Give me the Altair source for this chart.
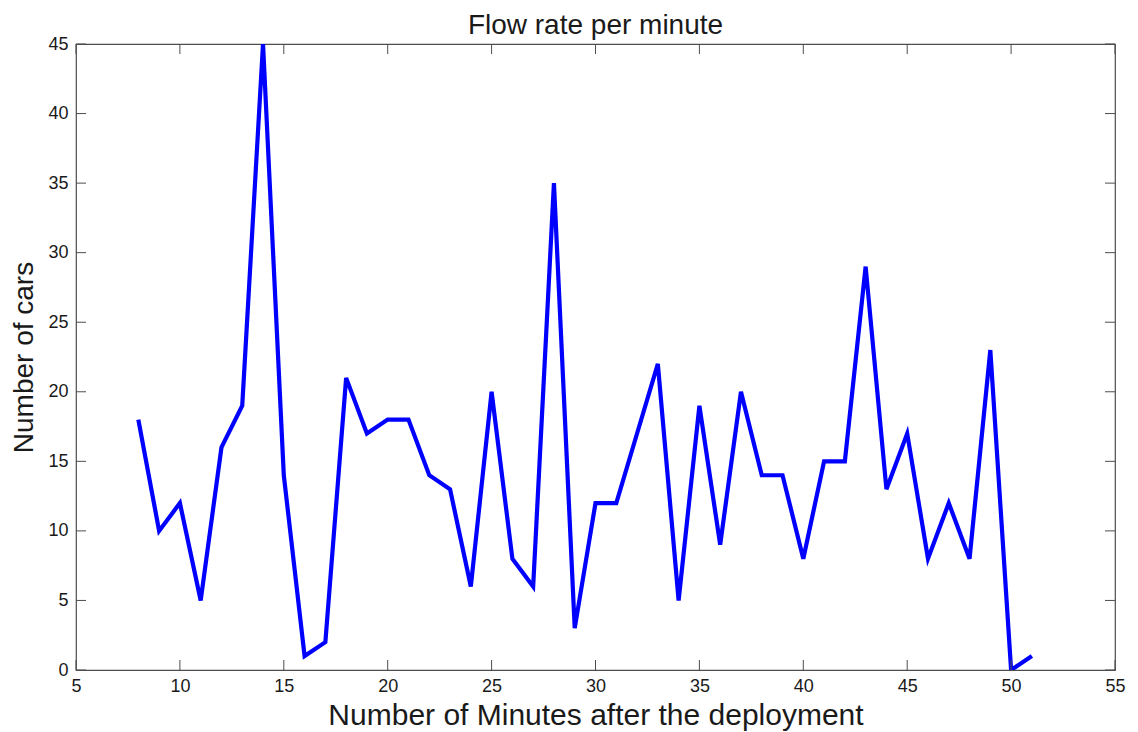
import altair as alt
import pandas as pd

minutes = list(range(8, 52))
cars = [18, 10, 12, 5, 16, 19, 45, 14, 1, 2, 21, 17, 18, 18, 14, 13, 6, 20, 8, 6,
        35, 3, 12, 12, 17, 22, 5, 19, 9, 20, 14, 14, 8, 15, 15, 29, 13, 17, 8, 12,
        8, 23, 0, 1]
x_ticks = [5, 10, 15, 20, 25, 30, 35, 40, 45, 50, 55]
y_ticks = [0, 5, 10, 15, 20, 25, 30, 35, 40, 45]

W, H = 1039, 626
FONT = "Liberation Sans"
TXT = "#1a1a1a"
FRAME = "#4d4d4d"

df = pd.DataFrame({"minute": minutes, "cars": cars})
xt = pd.DataFrame({"minute": x_ticks})
yt = pd.DataFrame({"cars": y_ticks})

xscale = alt.Scale(domain=[5, 55], nice=False, zero=False)
yscale = alt.Scale(domain=[0, 45], nice=False)

xaxis = alt.Axis(values=x_ticks, title="Number of Minutes after the deployment",
                 domain=False, ticks=False, grid=False, labelFontSize=18,
                 labelPadding=7, titleFontSize=30, titlePadding=5,
                 labelColor=TXT, titleColor=TXT, titleFontWeight="normal",
                 labelFont=FONT, titleFont=FONT, labelFlush=False)
yaxis = alt.Axis(values=y_ticks, title="Number of cars",
                 domain=False, ticks=False, grid=False, labelFontSize=18,
                 labelPadding=8, titleFontSize=28, titlePadding=9,
                 labelColor=TXT, titleColor=TXT, titleFontWeight="normal",
                 labelFont=FONT, titleFont=FONT, labelFlush=False)

line = alt.Chart(df).mark_line(color="#0000ff", strokeWidth=4.2, clip=True).encode(
    x=alt.X("minute:Q", scale=xscale, axis=xaxis),
    y=alt.Y("cars:Q", scale=yscale, axis=yaxis),
)

bottom_ticks = alt.Chart(xt).mark_rule(color=FRAME, strokeWidth=1).encode(
    x=alt.X("minute:Q", scale=xscale), y=alt.value(H), y2=alt.value(H - 10))
top_ticks = alt.Chart(xt).mark_rule(color=FRAME, strokeWidth=1).encode(
    x=alt.X("minute:Q", scale=xscale), y=alt.value(0), y2=alt.value(10))
left_ticks = alt.Chart(yt).mark_rule(color=FRAME, strokeWidth=1).encode(
    y=alt.Y("cars:Q", scale=yscale), x=alt.value(0), x2=alt.value(10))
right_ticks = alt.Chart(yt).mark_rule(color=FRAME, strokeWidth=1).encode(
    y=alt.Y("cars:Q", scale=yscale), x=alt.value(W), x2=alt.value(W - 10))

chart = alt.layer(line, bottom_ticks, top_ticks, left_ticks, right_ticks).properties(
    width=W, height=H,
    title=alt.Title("Flow rate per minute", fontSize=28, font=FONT, fontWeight="normal",
                    color=TXT, offset=-5),
    autosize=alt.AutoSizeParams(type="none"),
    padding={"left": 68, "top": 36, "right": 15, "bottom": 62},
    background="white",
).configure_view(stroke=FRAME, strokeWidth=1.2)

chart.save("out.html", embed_options={"renderer": "svg", "actions": False})
